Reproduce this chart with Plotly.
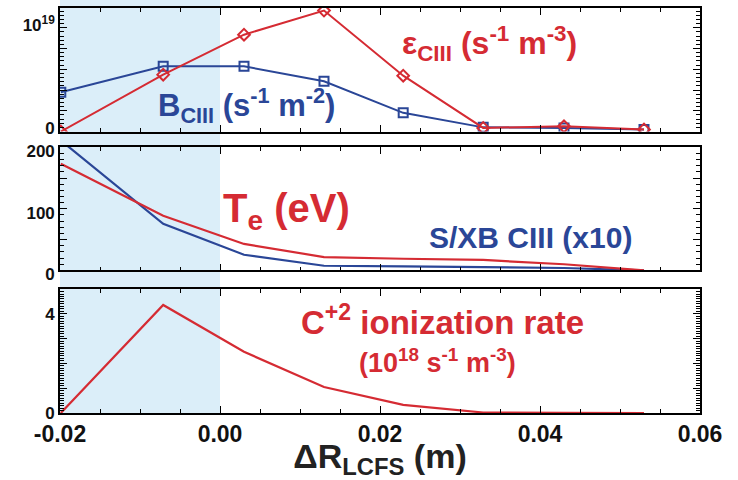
import plotly.graph_objects as go

# Radial positions relative to the LCFS (m)
dr = [-0.0199, -0.0071, 0.0030, 0.0130, 0.0229, 0.0329, 0.0430, 0.0530]

# Top panel: CIII emissivity (s^-1 m^-3) and brightness (s^-1 m^-2)
eps_ciii = [0.0, 0.548e19, 0.933e19, 1.166e19, 0.538e19, 0.035e19, 0.05e19, 0.02e19]
b_ciii = [0.378e19, 0.628e19, 0.628e19, 0.484e19, 0.18e19, 0.04e19, 0.035e19, 0.02e19]

# Middle panel: electron temperature (eV) and S/XB for CIII (x10)
te = [173, 88.6, 43, 21.7, 19, 17, 10, 0]
sxb_ciii = [211, 75.7, 25.4, 7.6, 6.5, 5, 4, 0]

# Bottom panel: C+2 ionization rate (10^18 s^-1 m^-3)
ion_rate = [0.0, 4.36, 2.47, 1.05, 0.33, 0.02, 0.01, 0.0]

# Tick values and labels
x_ticks = [-0.02, 0.0, 0.02, 0.04, 0.06]
x_labels = ["-0.02", "0.00", "0.02", "0.04", "0.06"]
y1_ticks = [0, 0.2e19, 0.4e19, 0.6e19, 0.8e19, 1.0e19]
y1_labels = ["0", "", "", "", "", "10<sup>19</sup>"]
y2_ticks = [0, 50, 100, 150, 200]
y2_labels = ["0", "", "100", "", "200"]
y3_ticks = [0, 1, 2, 3, 4, 5]
y3_labels = ["0", "", "", "", "4", ""]

RED = "#D52B33"
BLUE = "#2A4697"
SHADE = "#DBEEF9"
FONT = "Liberation Sans"

def bold(labels):
    return [f"<b>{t}</b>" if t else "" for t in labels]

fig = go.Figure()

fig.add_trace(go.Scatter(x=dr, y=b_ciii, mode="lines+markers", xaxis="x", yaxis="y",
                         line=dict(color=BLUE, width=2),
                         marker=dict(symbol="square-open", size=9, color=BLUE, line=dict(width=2))))
fig.add_trace(go.Scatter(x=dr, y=eps_ciii, mode="lines+markers", xaxis="x", yaxis="y",
                         line=dict(color=RED, width=2),
                         marker=dict(symbol="diamond-open", size=9, color=RED, line=dict(width=2))))
fig.add_trace(go.Scatter(x=dr, y=sxb_ciii, mode="lines", xaxis="x2", yaxis="y2",
                         line=dict(color=BLUE, width=2.2)))
fig.add_trace(go.Scatter(x=dr, y=te, mode="lines", xaxis="x2", yaxis="y2",
                         line=dict(color=RED, width=2.2)))
fig.add_trace(go.Scatter(x=dr, y=ion_rate, mode="lines", xaxis="x3", yaxis="y3",
                         line=dict(color=RED, width=2.2)))

base = dict(showline=True, linecolor="black", linewidth=1.6, mirror="ticks",
            ticks="inside", tickcolor="black", tickwidth=1.3, ticklen=7,
            showgrid=False, zeroline=False, automargin=False)
minor_style = dict(ticklen=4, ticks="inside", tickcolor="black", tickwidth=1.1)
ytickfont = dict(size=17, family=FONT, color="#111")

xbase = dict(base, range=[-0.02, 0.06], tickvals=x_ticks,
             minor=dict(minor_style, dtick=0.005, tick0=0))

fig.update_layout(
    template="none",
    width=738, height=480,
    margin=dict(l=60, r=38, t=8, b=67),
    paper_bgcolor="white", plot_bgcolor="rgba(0,0,0,0)",
    showlegend=False,
    font=dict(family=FONT, color="#111"),
    xaxis=dict(xbase, anchor="y", showticklabels=False),
    xaxis2=dict(xbase, anchor="y2", showticklabels=False),
    xaxis3=dict(xbase, anchor="y3", ticktext=bold(x_labels),
                tickfont=dict(size=23, family=FONT, color="#111"),
                title=dict(text="<b>ΔR<sub>LCFS</sub> (m)</b>",
                           font=dict(size=34, family=FONT, color="#222"), standoff=2)),
    yaxis=dict(base, domain=[0.695, 1.0], range=[0, 1.19e19],
               tickvals=y1_ticks, ticktext=bold(y1_labels), tickfont=ytickfont,
               ticklabelshift=-3,
               minor=dict(minor_style, dtick=0.04e19, tick0=0)),
    yaxis2=dict(base, domain=[0.352, 0.657], range=[0, 200.5],
                tickvals=y2_ticks, ticktext=bold(y2_labels), tickfont=ytickfont,
                ticklabelshift=4,
                minor=dict(minor_style, dtick=10, tick0=0)),
    yaxis3=dict(base, domain=[0.0, 0.306], range=[0, 5],
                tickvals=y3_ticks, ticktext=bold(y3_labels), tickfont=ytickfont,
                minor=dict(minor_style, dtick=0.1, tick0=0)),
)

# Shaded region inside the LCFS, spanning all three panels
fig.add_shape(type="rect", xref="x", yref="paper", x0=-0.02, x1=0.0, y0=0, y1=1.021,
              fillcolor=SHADE, line=dict(width=0), layer="below")

def label(text, x, y, size, color, yanchor="middle"):
    fig.add_annotation(text=f"<b>{text}</b>", x=x, y=y, xref="paper", yref="paper",
                       xanchor="left", yanchor=yanchor, showarrow=False,
                       font=dict(size=size, family=FONT, color=color))

# plot area in pixels: x 60..700, y 8..413
def px(xp):
    return (xp - 60) / 640.0

def py(yp):
    return (413.3 - yp) / 405.0

label("ε<sub>CIII</sub> (s<sup>-1</sup> m<sup>-3</sup>)", px(400), py(44), 32, RED)
label("B<sub>CIII</sub> (s<sup>-1</sup> m<sup>-2</sup>)", px(156), py(106), 31, BLUE)
label("T<sub>e</sub> (eV)", px(221), py(211), 40, RED)
label("S/XB CIII (x10)", px(427), py(238), 30, BLUE)
label("C<sup>+2</sup> ionization rate", px(299), py(343), 33, RED, yanchor="bottom")
label("(10<sup>18</sup> s<sup>-1</sup> m<sup>-3</sup>)", px(357), py(342), 27, RED, yanchor="top")

fig.write_html("out.html")
